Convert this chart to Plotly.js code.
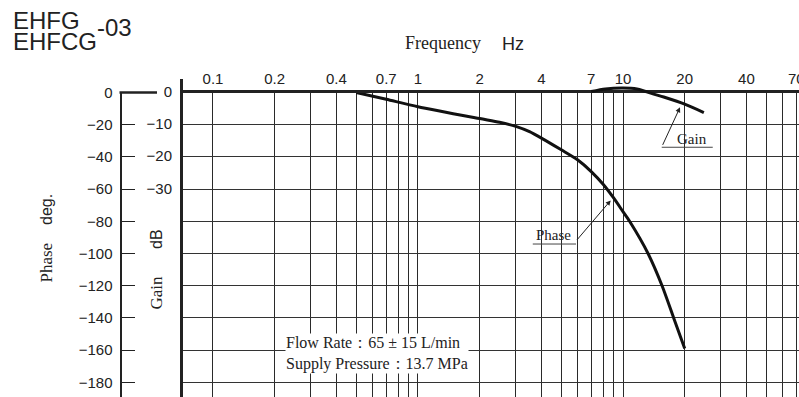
<!DOCTYPE html>
<html><head><meta charset="utf-8">
<script src="https://cdn.plot.ly/plotly-3.0.1.min.js"></script>
<style>html,body{margin:0;padding:0;background:#fff}</style>
</head><body><div id="chart" style="width:799px;height:397px"></div>
<script>
// ---- data ----
const gridFreqs = [0.1,0.2,0.3,0.4,0.5,0.6,0.7,0.8,0.9,1,2,3,4,5,6,7,8,9,10,20,30,40,50,60,70,80,90];
const freqLabels = ['0.1','0.2','0.4','0.7','1','2','4','7','10','20','40','70'];
const phaseFreq = [0.5, 0.7, 1, 2, 2.5, 3, 3.5, 4, 5, 6, 7, 8, 9, 10, 10.77, 13.25, 15.51, 17.67, 20];
const phaseDeg  = [0, -4.2, -8.8, -16.2, -18.5, -21.0, -24.3, -28.3, -35.6, -41.8, -49.1, -57, -65.5, -74, -80, -100, -120, -140, -159];
const gainFreq = [7, 8.2, 10, 11.7, 12.9, 15.8, 20, 24.8];
const gainDb   = [0, 0.8, 1.1, 0.8, 0, -1.7, -3.9, -6.5];
const phaseTicks = [0,-20,-40,-60,-80,-100,-120,-140,-160,-180];
const gainTicks = [0,-10,-20,-30];

// ---- layout helpers (pixel -> paper) ----
const W = 799, H = 397;
const px = v => v / W;
const py = v => 1 - v / H;
const serif = 'Liberation Serif, Times New Roman, serif';
const sans = 'Liberation Sans, Arial, sans-serif';
const ink = '#222';
const xRange = [Math.log10(0.0714), Math.log10(72.2)];

const traces = [
  {x: phaseFreq, y: phaseDeg, xaxis: 'x', yaxis: 'y', mode: 'lines',
   line: {color: '#111', width: 3, shape: 'spline', smoothing: 0.7}, hoverinfo: 'skip', showlegend: false},
  {x: gainFreq, y: gainDb, xaxis: 'x2', yaxis: 'y2', mode: 'lines',
   line: {color: '#111', width: 3, shape: 'spline', smoothing: 0.7}, hoverinfo: 'skip', showlegend: false}
];

function txt(text, x, y, font, size, extra) {
  return Object.assign({text: text, xref: 'paper', yref: 'paper', x: px(x), y: py(y),
    xanchor: 'left', yanchor: 'middle', showarrow: false,
    font: {family: font, size: size, color: ink}}, extra || {});
}

const annotations = [
  txt('EHFG', 11, 20, sans, 24),
  txt('EHFCG', 11, 41.5, sans, 24),
  txt('-03', 95, 28, sans, 24),
  txt('Frequency', 403, 43, serif, 18),
  txt('Hz', 500, 44, sans, 18),
  txt('Phase', 46, 262.5, serif, 17, {xanchor: 'center', textangle: -90}),
  txt('deg.', 46, 210, sans, 16, {xanchor: 'center', textangle: -90}),
  txt('Gain', 156, 292.5, serif, 17, {xanchor: 'center', textangle: -90}),
  txt('dB', 156, 239, sans, 16, {xanchor: 'center', textangle: -90}),
  txt('Flow Rate\uFF1A65 \u00B1 15 L/min<br>Supply Pressure\uFF1A13.7 MPa', 285, 353.5, serif, 16,
      {bgcolor: '#fff', borderpad: 0, align: 'left'}),
  txt('Gain', 691.7, 139, serif, 15, {xanchor: 'center'}),
  txt('Phase', 553.3, 235, serif, 15, {xanchor: 'center'}),
  {text: '', xref: 'x2', yref: 'y2', x: Math.log10(18.97), y: -4.9, ax: -18, ay: 39,
   showarrow: true, arrowhead: 2, arrowsize: 1, arrowwidth: 1, arrowcolor: ink, standoff: 0},
  {text: '', xref: 'x', yref: 'y', x: Math.log10(8.71), y: -67, ax: -35, ay: 41,
   showarrow: true, arrowhead: 2, arrowsize: 1, arrowwidth: 1, arrowcolor: ink, standoff: 0}
];

const shapes = [
  // stub of the phase axis at 0
  {type: 'line', xref: 'paper', yref: 'paper', x0: px(119.5), x1: px(157), y0: py(92.5), y1: py(92.5),
   line: {color: ink, width: 2.5}},
  // label underlines
  {type: 'line', xref: 'x', yref: 'y', x0: 15.45, x1: 27.4, y0: -34.0, y1: -34.0, line: {color: '#444', width: 1}},
  {type: 'line', xref: 'x', yref: 'y', x0: 3.63, x1: 5.9, y0: -94.1, y1: -94.1, line: {color: '#444', width: 1}}
];

const layout = {
  width: W, height: H,
  margin: {l: 0, r: 0, t: 0, b: 0},
  paper_bgcolor: '#fff', plot_bgcolor: 'rgba(0,0,0,0)',
  showlegend: false,
  xaxis: {
    type: 'log', domain: [px(183), 1], range: xRange,
    anchor: 'y', side: 'top', ticklabeloverflow: 'allow',
    tickmode: 'array', tickvals: gridFreqs,
    ticktext: gridFreqs.map(f => freqLabels.includes(String(f)) ? String(f) : ''),
    ticks: '', showline: true, linecolor: ink, linewidth: 2.5,
    showgrid: true, gridcolor: '#2a2a2a', gridwidth: 1, zeroline: false,
    tickfont: {family: sans, size: 15, color: ink}
  },
  yaxis: {
    domain: [0, py(92.5)], range: [-189.1, 0],
    anchor: 'free', position: px(120.5), side: 'left',
    tickmode: 'array', tickvals: phaseTicks,
    ticks: 'inside', ticklen: 13, tickwidth: 1, tickcolor: ink, ticklabelstandoff: 4,
    showline: true, linecolor: ink, linewidth: 2.5,
    showgrid: true, gridcolor: '#333', gridwidth: 1, zeroline: false,
    tickfont: {family: sans, size: 15, color: ink}
  },
  xaxis2: {
    type: 'log', domain: [px(183), 1], range: xRange, anchor: 'y2', visible: false
  },
  yaxis2: {
    domain: [0, py(79)], range: [-94.55, 3.88],
    anchor: 'x2', side: 'left',
    tickmode: 'array', tickvals: gainTicks, ticks: '', ticklabelstandoff: 5,
    showline: true, linecolor: ink, linewidth: 3,
    showgrid: false, zeroline: false,
    tickfont: {family: sans, size: 15, color: ink}
  },
  annotations: annotations,
  shapes: shapes
};

Plotly.newPlot('chart', traces, layout, {displayModeBar: false, staticPlot: true});
</script>
</body></html>
